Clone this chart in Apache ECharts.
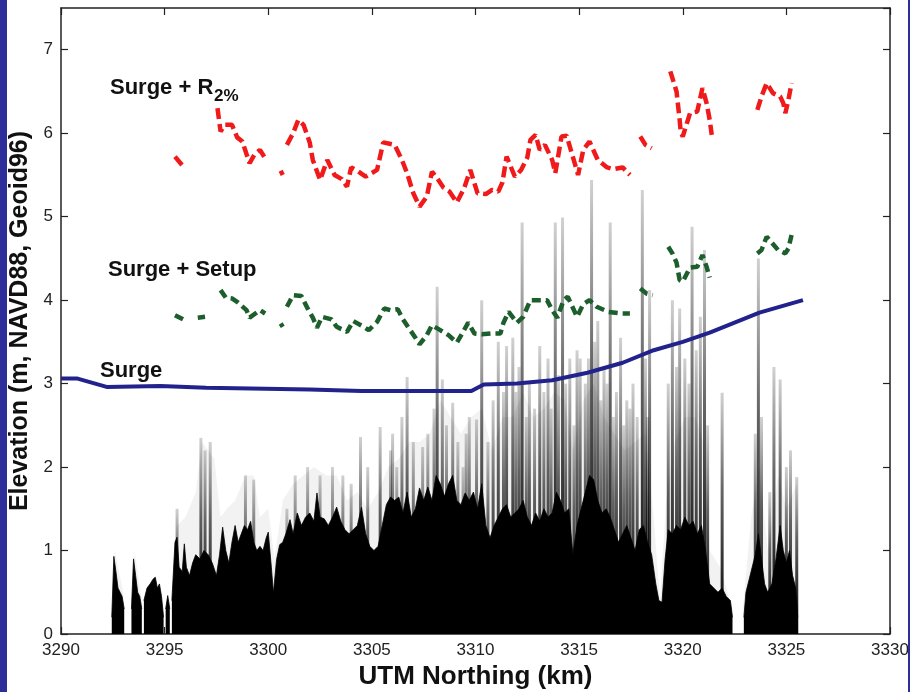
<!DOCTYPE html>
<html><head><meta charset="utf-8">
<script src="https://cdn.jsdelivr.net/npm/echarts@6/dist/echarts.min.js"></script>
<style>html,body{margin:0;padding:0;background:#fff}#c{width:910px;height:692px}</style>
</head><body><div id="c"></div>
<script>
// ---- Tick labels / axis ranges ----
const xTicks = [3290, 3295, 3300, 3305, 3310, 3315, 3320, 3325, 3330];
const yTicks = [0, 1, 2, 3, 4, 5, 6, 7];

// ---- Surge (m) vs UTM Northing (km) ----
const surge = [[3290,3.06],[3290.8,3.06],[3292.2,2.96],[3294.8,2.97],[3297,2.95],[3302,2.93],[3304.5,2.91],[3307,2.91],[3309.8,2.91],[3310.4,2.99],[3312,3.0],[3313.7,3.04],[3315.4,3.13],[3317.1,3.25],[3318.6,3.4],[3320,3.5],[3321.3,3.61],[3323.7,3.85],[3325.8,4.0]];

// ---- Surge + R2% ----
const surgeR2 = [[3295.5,5.72],[3295.9,5.6],null,
[3297.55,6.3],[3297.7,6.02],[3297.9,6.1],[3298.25,6.1],[3298.5,5.95],[3298.75,5.9],[3298.95,5.75],[3299.1,5.64],[3299.35,5.75],[3299.6,5.8],[3299.85,5.7],null,
[3300.6,5.55],[3300.7,5.5],null,
[3300.9,5.86],[3301.2,6.0],[3301.45,6.16],[3301.7,6.1],[3302.0,5.89],[3302.15,5.68],[3302.5,5.44],[3302.85,5.68],[3303.2,5.5],[3303.55,5.45],[3303.8,5.36],[3304.0,5.59],[3304.3,5.55],[3304.7,5.48],[3305.25,5.56],[3305.55,5.89],[3306.1,5.86],[3306.45,5.68],[3306.7,5.52],[3307.0,5.28],[3307.3,5.12],[3307.65,5.24],[3307.9,5.54],[3308.15,5.46],[3308.45,5.35],[3308.75,5.3],[3309.1,5.17],[3309.45,5.34],[3309.75,5.56],[3310.1,5.28],[3310.5,5.27],[3310.8,5.32],[3311.1,5.3],[3311.3,5.41],[3311.5,5.72],[3311.9,5.48],[3312.2,5.56],[3312.5,5.71],[3312.65,5.92],[3312.9,5.98],[3313.1,5.8],[3313.35,5.86],[3313.7,5.68],[3313.85,5.52],[3314.15,5.96],[3314.4,5.97],[3314.95,5.5],[3315.2,5.8],[3315.5,5.9],[3315.9,5.68],[3316.35,5.59],[3316.65,5.57],[3317.1,5.59],[3317.45,5.5],null,
[3317.95,5.96],[3318.2,5.86],[3318.5,5.82],null,
[3319.4,6.74],[3319.7,6.5],[3319.85,6.16],[3319.9,6.02],[3320.0,5.96],[3320.35,6.24],[3320.7,6.26],[3320.95,6.54],[3321.15,6.36],[3321.3,6.16],[3321.4,5.98],null,
[3323.6,6.28],[3323.8,6.44],[3324.05,6.6],[3324.35,6.48],[3324.7,6.44],[3324.85,6.36],[3324.95,6.24],[3325.1,6.4],[3325.25,6.6]];

// ---- Surge + Setup ----
const surgeSetup = [[3295.5,3.82],[3295.9,3.77],null,[3296.6,3.79],[3296.95,3.8],null,
[3297.7,4.12],[3297.95,4.03],[3298.25,4.02],[3298.55,3.97],[3298.95,3.88],[3299.1,3.79],[3299.6,3.88],[3299.85,3.84],null,
[3300.6,3.72],[3300.7,3.68],null,
[3300.9,3.92],[3301.2,4.06],[3301.6,4.05],[3301.9,3.9],[3302.15,3.79],[3302.35,3.67],[3302.6,3.8],[3303.05,3.77],[3303.3,3.68],[3303.8,3.62],[3304.1,3.75],[3304.6,3.68],[3304.85,3.64],[3305.25,3.74],[3305.6,3.9],[3305.9,3.88],[3306.25,3.89],[3306.5,3.77],[3306.85,3.64],[3307.1,3.55],[3307.3,3.47],[3307.65,3.58],[3307.9,3.7],[3308.3,3.64],[3308.7,3.58],[3309.1,3.49],[3309.4,3.62],[3309.65,3.73],[3309.95,3.6],[3310.3,3.59],[3310.75,3.6],[3311.2,3.6],[3311.35,3.73],[3311.6,3.86],[3312.0,3.73],[3312.3,3.8],[3312.65,4.0],[3312.9,4.0],[3313.45,4.0],[3313.7,3.88],[3313.95,3.79],[3314.25,4.0],[3314.45,4.04],[3314.9,3.8],[3315.2,3.95],[3315.5,4.0],[3315.85,3.92],[3316.4,3.86],[3317.0,3.84],[3317.45,3.84],null,
[3317.95,4.14],[3318.25,4.08],[3318.55,4.06],null,
[3319.3,4.64],[3319.5,4.56],[3319.7,4.45],[3319.85,4.24],[3320.0,4.22],[3320.35,4.39],[3320.7,4.4],[3320.95,4.54],[3321.15,4.4],[3321.3,4.27],null,
[3323.6,4.56],[3323.8,4.6],[3324.05,4.76],[3324.6,4.6],[3324.95,4.56],[3325.1,4.62],[3325.25,4.78]];

// ---- Lidar elevations: dense core envelope ----
const lidarCore = [[3292.45,0.2],[3292.55,0.93],[3292.65,0.75],[3292.75,0.55],[3292.85,0.5],[3292.95,0.45],[3293.05,0.3],null,
[3293.4,0.3],[3293.5,0.9],[3293.6,0.7],[3293.7,0.5],[3293.8,0.45],[3293.9,0.3],null,
[3294.0,0.4],[3294.15,0.55],[3294.3,0.6],[3294.45,0.66],[3294.55,0.68],[3294.65,0.55],[3294.75,0.6],[3294.85,0.45],[3294.95,0.2],null,
[3295.05,0.3],[3295.15,0.46],[3295.25,0.3],null,
[3295.35,0.4],[3295.5,1.1],[3295.6,1.16],[3295.7,0.8],[3295.85,0.75],[3295.95,1.08],[3296.05,0.8],[3296.2,0.7],[3296.35,0.85],[3296.5,0.95],[3296.7,0.9],[3296.9,1.0],[3297.1,0.95],[3297.3,0.85],[3297.5,0.7],[3297.65,0.95],[3297.8,1.28],[3297.95,1.0],[3298.1,0.85],[3298.25,1.1],[3298.4,1.3],[3298.55,1.1],[3298.7,1.2],[3298.85,1.3],[3299.0,1.25],[3299.15,1.35],[3299.3,1.1],[3299.45,1.0],[3299.6,1.05],[3299.75,1.0],[3299.9,1.15],[3300.0,1.22],[3300.15,0.8],[3300.25,0.49],[3300.4,0.89],[3300.55,1.07],[3300.7,1.1],[3300.85,1.2],[3301.05,1.37],[3301.2,1.2],[3301.4,1.45],[3301.6,1.3],[3301.8,1.4],[3302.0,1.45],[3302.2,1.35],[3302.35,1.69],[3302.5,1.4],[3302.7,1.38],[3302.9,1.3],[3303.1,1.4],[3303.3,1.52],[3303.5,1.35],[3303.7,1.25],[3303.9,1.2],[3304.1,1.25],[3304.3,1.3],[3304.5,1.52],[3304.7,1.2],[3304.9,1.05],[3305.1,1.0],[3305.3,1.05],[3305.5,1.3],[3305.7,1.55],[3305.9,1.64],[3306.1,1.6],[3306.3,1.64],[3306.5,1.45],[3306.7,1.7],[3306.9,1.4],[3307.1,1.5],[3307.3,1.75],[3307.5,1.6],[3307.7,1.76],[3307.9,1.6],[3308.1,1.9],[3308.3,1.8],[3308.5,1.65],[3308.7,1.8],[3308.9,1.9],[3309.1,1.6],[3309.3,1.55],[3309.5,1.69],[3309.7,1.6],[3309.9,1.7],[3310.1,1.5],[3310.3,1.8],[3310.5,1.3],[3310.7,1.15],[3310.9,1.3],[3311.1,1.4],[3311.3,1.5],[3311.5,1.55],[3311.7,1.4],[3311.9,1.45],[3312.1,1.5],[3312.3,1.6],[3312.5,1.4],[3312.7,1.3],[3312.9,1.45],[3313.1,1.35],[3313.3,1.5],[3313.5,1.4],[3313.7,1.45],[3313.9,1.7],[3314.1,1.6],[3314.3,1.45],[3314.5,1.5],[3314.7,0.95],[3314.9,1.3],[3315.1,1.5],[3315.3,1.7],[3315.5,1.9],[3315.7,1.85],[3315.9,1.6],[3316.1,1.45],[3316.3,1.5],[3316.5,1.4],[3316.7,1.25],[3316.9,1.1],[3317.1,1.2],[3317.3,1.3],[3317.5,1.15],[3317.7,1.0],[3317.9,1.25],[3318.1,1.3],[3318.3,1.1],[3318.5,0.95],[3318.7,0.6],[3318.85,0.4],[3319.0,0.38],[3319.15,0.9],[3319.3,1.25],[3319.5,1.2],[3319.7,1.3],[3319.9,1.25],[3320.1,1.4],[3320.3,1.3],[3320.5,1.35],[3320.7,1.2],[3320.9,1.3],[3321.1,1.0],[3321.3,0.6],[3321.5,0.55],[3321.7,0.5],[3321.9,0.55],[3322.1,0.45],[3322.3,0.4],[3322.4,0.2],null,
[3322.95,0.2],[3323.05,0.5],[3323.2,0.65],[3323.35,0.8],[3323.5,0.95],[3323.65,1.2],[3323.8,0.9],[3323.95,0.6],[3324.1,0.5],[3324.3,0.6],[3324.5,0.9],[3324.7,1.3],[3324.85,1.0],[3325.0,0.85],[3325.15,1.0],[3325.3,0.7],[3325.45,0.55],[3325.55,0.2]];

// ---- Lidar elevations: sparse haze envelope ----
const lidarHaze = [[3292.45,0.3],[3292.6,1.0],[3293.0,0.5],null,[3293.4,0.4],[3293.55,1.0],[3293.9,0.4],null,
[3295.4,0.5],[3295.6,1.3],[3296.0,1.4],[3296.5,1.7],[3296.8,2.3],[3297.1,2.2],[3297.4,2.1],[3297.7,1.4],[3298.0,1.5],[3298.4,1.6],[3298.9,1.9],[3299.3,1.9],[3299.6,1.4],[3300.0,1.5],[3300.3,0.9],[3300.7,1.6],[3301.2,1.8],[3301.7,1.9],[3302.2,2.0],[3302.8,1.9],[3303.3,1.9],[3303.8,1.6],[3304.3,1.7],[3304.8,1.5],[3305.3,1.7],[3305.8,2.0],[3306.3,2.1],[3306.8,2.3],[3307.3,2.3],[3307.8,2.4],[3308.3,2.8],[3308.8,2.6],[3309.3,2.4],[3309.8,2.6],[3310.3,2.7],[3310.8,2.2],[3311.3,2.6],[3311.8,2.6],[3312.3,2.9],[3312.8,2.6],[3313.3,2.7],[3313.8,2.9],[3314.3,2.8],[3314.7,2.2],[3315.2,2.8],[3315.7,3.0],[3316.2,2.6],[3316.7,2.4],[3317.2,2.2],[3317.7,2.3],[3318.2,2.4],[3318.6,1.4],[3318.9,0.4],[3319.2,1.6],[3319.6,2.3],[3320.1,2.6],[3320.6,2.6],[3321.0,2.3],[3321.3,1.0],[3321.8,0.8],[3322.4,0.3],null,
[3322.9,0.3],[3323.3,1.4],[3323.7,2.0],[3324.1,1.0],[3324.6,1.9],[3325.0,1.5],[3325.5,1.8],[3325.6,0.2]];

// ---- Lidar elevations: tall thin returns (x, top) ----
const lidarSpikes = [[3295.6,1.5],[3296.75,2.35],[3296.95,2.2],[3297.2,2.3],[3298.9,1.9],[3299.3,1.85],[3300.9,1.5],[3301.3,1.9],[3301.9,2.0],[3302.5,1.9],[3303.1,2.0],[3303.6,1.9],[3304.0,1.8],[3304.45,2.36],[3304.8,2.0],[3305.4,2.48],[3305.9,2.2],[3306.0,2.4],[3306.2,2.0],[3306.45,2.6],[3306.7,3.08],[3307.0,2.3],[3307.45,2.24],[3307.7,2.4],[3308.0,2.7],[3308.15,4.16],[3308.4,3.05],[3308.6,2.5],[3308.9,2.77],[3309.15,2.3],[3309.4,2.0],[3309.55,2.4],[3309.7,2.6],[3310.05,2.57],[3310.3,4.0],[3310.6,2.3],[3310.85,2.8],[3311.1,3.5],[3311.35,2.9],[3311.5,3.45],[3311.8,3.55],[3311.95,2.9],[3312.1,3.2],[3312.25,4.93],[3312.45,2.6],[3312.6,3.0],[3312.85,2.7],[3313.1,3.45],[3313.3,2.9],[3313.5,3.3],[3313.65,2.7],[3313.85,4.93],[3314.0,3.1],[3314.2,4.99],[3314.35,3.0],[3314.55,3.3],[3314.75,2.5],[3314.9,3.4],[3315.05,3.3],[3315.3,3.0],[3315.45,3.3],[3315.6,5.44],[3315.75,3.5],[3315.9,3.75],[3316.05,2.8],[3316.2,3.2],[3316.35,3.0],[3316.5,4.93],[3316.65,2.6],[3316.8,2.9],[3317.0,3.55],[3317.15,2.5],[3317.3,2.8],[3317.45,2.7],[3317.6,3.0],[3317.8,2.6],[3318.05,5.32],[3318.2,3.3],[3318.3,2.6],[3318.4,4.12],[3319.3,3.0],[3319.5,4.0],[3319.7,3.2],[3319.85,3.9],[3320.1,3.3],[3320.3,3.0],[3320.45,4.88],[3320.65,3.4],[3320.85,3.8],[3321.05,4.6],[3321.2,2.5],[3321.9,2.89],[3323.5,2.4],[3323.65,4.5],[3323.8,2.6],[3324.2,1.7],[3324.4,3.2],[3324.7,3.05],[3325.0,2.0],[3325.2,2.2],[3325.5,1.88]];

function gaps(arr){ let last = arr[0][0]; return arr.map(p => { if (p === null) return [last, '-']; last = p[0]; return p; }); }

const chart = echarts.init(document.getElementById('c'), null, {renderer:'canvas'});
const axisCol = '#222';
const font = 'Liberation Sans, Arial, Helvetica, sans-serif';
const xBase = { type:'value', min:xTicks[0], max:xTicks[xTicks.length-1], interval:5,
  axisLine:{show:true, onZero:false, lineStyle:{color:axisCol, width:1.5}},
  axisTick:{show:true, inside:true, length:7, lineStyle:{color:axisCol, width:1.2}},
  splitLine:{show:false} };
const yBase = { type:'value', min:0, max:7.5, interval:1,
  axisLine:{show:true, onZero:false, lineStyle:{color:axisCol, width:1.5}},
  axisTick:{show:true, inside:true, length:7, lineStyle:{color:axisCol, width:1.2}},
  splitLine:{show:false} };

chart.setOption({
  animation:false,
  backgroundColor:'#ffffff',
  grid:{left:61, right:20, top:8, bottom:58, containLabel:false, outerBoundsMode:'none'},
  xAxis:[
    Object.assign({}, xBase, {position:'bottom', name:'UTM Northing (km)', nameLocation:'middle', nameGap:29,
      nameTextStyle:{fontFamily:font, fontWeight:'bold', fontSize:26, color:'#111'},
      axisLabel:{show:true, margin:8, fontFamily:font, fontSize:17, color:'#222', showMinLabel:true, showMaxLabel:true,
        formatter: v => xTicks.includes(v) ? String(v) : ''}}),
    Object.assign({}, xBase, {position:'top', axisLabel:{show:false}})
  ],
  yAxis:[
    Object.assign({}, yBase, {position:'left', name:'Elevation (m, NAVD88, Geoid96)', nameLocation:'middle', nameGap:28, nameRotate:90,
      nameTextStyle:{fontFamily:font, fontWeight:'bold', fontSize:25, color:'#111'},
      axisLabel:{show:true, margin:8, fontFamily:font, fontSize:17, color:'#222', showMaxLabel:false,
        formatter: v => yTicks.includes(v) ? String(v) : ''}}),
    Object.assign({}, yBase, {position:'right', axisLabel:{show:false}})
  ],
  graphic:[
    {type:'rect', left:0, top:0, shape:{width:7, height:692}, style:{fill:'#2e2e9a'}, z:100},
    {type:'rect', left:908, top:0, shape:{width:2, height:692}, style:{fill:'#2e2e9a'}, z:100},
    {type:'text', left:110, top:77, style:{text:'Surge + R', fontFamily:font, fontWeight:'bold', fontSize:22, fill:'#111'}, z:100},
    {type:'text', left:214, top:88, style:{text:'2%', fontFamily:font, fontWeight:'bold', fontSize:17, fill:'#111'}, z:100},
    {type:'text', left:108, top:259, style:{text:'Surge + Setup', fontFamily:font, fontWeight:'bold', fontSize:22, fill:'#111'}, z:100},
    {type:'text', left:100, top:360, style:{text:'Surge', fontFamily:font, fontWeight:'bold', fontSize:22, fill:'#111'}, z:100}
  ],
  series:[
    {name:'lidarHaze', type:'line', data:gaps(lidarHaze), showSymbol:false, symbol:'none', connectNulls:false,
      lineStyle:{width:0, color:'rgba(0,0,0,0)'}, areaStyle:{color:'rgba(0,0,0,0.07)', origin:'start'}, z:1, silent:true},
    {name:'lidarSpikes', type:'bar', data:lidarSpikes, barWidth:3, barGap:'-100%', z:2, silent:true,
      itemStyle:{color:new echarts.graphic.LinearGradient(0,0,0,1,[{offset:0,color:'rgba(0,0,0,0.18)'},{offset:0.4,color:'rgba(0,0,0,0.6)'},{offset:1,color:'rgba(0,0,0,1)'}])}},
    {name:'lidarCore', type:'line', data:gaps(lidarCore), showSymbol:false, symbol:'none', connectNulls:false,
      lineStyle:{width:0.8, color:'#000'}, areaStyle:{color:'#000', opacity:1, origin:'start'}, z:3, silent:true},
    {name:'Surge', type:'line', data:surge, showSymbol:false, symbol:'none',
      lineStyle:{width:4, color:'#22228c'}, z:5},
    {name:'Surge + Setup', type:'line', data:gaps(surgeSetup), showSymbol:false, symbol:'none', connectNulls:false,
      lineStyle:{width:4.5, color:'#1c5e2c', type:[9,5], cap:'butt'}, z:6},
    {name:'Surge + R2%', type:'line', data:gaps(surgeR2), showSymbol:false, symbol:'none', connectNulls:false,
      lineStyle:{width:4.5, color:'#f01a1a', type:[11,5], cap:'butt'}, z:7}
  ]
});
</script></body></html>
